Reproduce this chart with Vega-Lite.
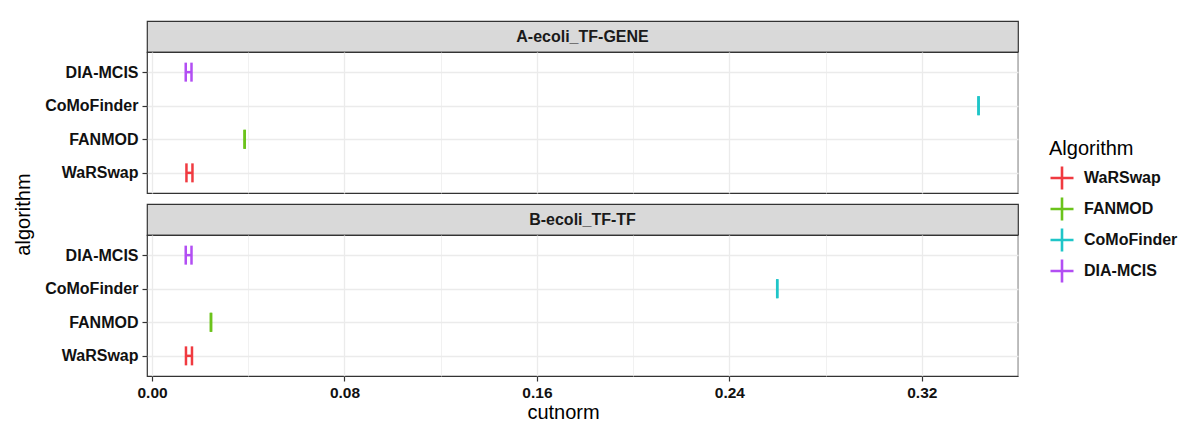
{
  "$schema": "https://vega.github.io/schema/vega-lite/v6.json",
  "background": "white",
  "padding": {"left": 13, "top": 20, "right": 0, "bottom": 0},
  "config": {
    "font": "Liberation Sans",
    "view": {"stroke": "#333333", "strokeWidth": 1.2},
    "tick": {"opacity": 1},
    "rule": {"opacity": 1}
  },
  "datasets": {
    "bars": [
      {"panel": "A-ecoli_TF-GENE", "algorithm": "WaRSwap", "xmin": 0.0143, "xmax": 0.0168},
      {"panel": "A-ecoli_TF-GENE", "algorithm": "FANMOD", "xmin": 0.0385, "xmax": 0.0385},
      {"panel": "A-ecoli_TF-GENE", "algorithm": "CoMoFinder", "xmin": 0.3436, "xmax": 0.3436},
      {"panel": "A-ecoli_TF-GENE", "algorithm": "DIA-MCIS", "xmin": 0.0140, "xmax": 0.0164},
      {"panel": "B-ecoli_TF-TF", "algorithm": "WaRSwap", "xmin": 0.0141, "xmax": 0.0166},
      {"panel": "B-ecoli_TF-TF", "algorithm": "FANMOD", "xmin": 0.0245, "xmax": 0.0245},
      {"panel": "B-ecoli_TF-TF", "algorithm": "CoMoFinder", "xmin": 0.2599, "xmax": 0.2599},
      {"panel": "B-ecoli_TF-TF", "algorithm": "DIA-MCIS", "xmin": 0.0140, "xmax": 0.0164}
    ],
    "strips": [
      {"panel": "A-ecoli_TF-GENE"},
      {"panel": "B-ecoli_TF-TF"}
    ]
  },
  "bounds": "flush",
  "spacing": 0,
  "vconcat": [
    {
      "width": 871, "height": 31,
      "data": {"name": "strips"},
      "transform": [{"filter": "datum.panel == 'A-ecoli_TF-GENE'"}],
      "view": {"fill": "#d9d9d9", "stroke": "#333333", "strokeWidth": 1.2},
      "mark": {"type": "text", "fontWeight": "bold", "fontSize": 16, "color": "#1a1a1a", "baseline": "middle", "align": "center"},
      "encoding": {"text": {"field": "panel", "type": "nominal"}}
    },
    {
      "width": 871, "height": 141,
      "data": {"name": "bars"},
      "transform": [{"filter": "datum.panel == 'A-ecoli_TF-GENE'"}],
      "layer": [
        {
          "mark": {"type": "rule", "strokeWidth": 2.5},
          "encoding": {
            "x": {"field": "xmin", "type": "quantitative",
              "scale": {"domain": [-0.0021, 0.36], "nice": false, "zero": false},
              "axis": {"title": null, "labels": false, "ticks": false, "domain": false,
                "values": [0, 0.04, 0.08, 0.12, 0.16, 0.2, 0.24, 0.28, 0.32, 0.36],
                "grid": true, "gridColor": "#ebebeb",
                "gridWidth": {"condition": {"test": "round(datum.value*100) % 8 == 0", "value": 1.3}, "value": 0.7}}},
            "x2": {"field": "xmax"},
            "y": {"field": "algorithm", "type": "nominal",
              "scale": {"type": "point", "padding": 0.6, "domain": ["DIA-MCIS", "CoMoFinder", "FANMOD", "WaRSwap"]},
              "axis": {"title": "algorithm", "titleFontSize": 20, "titleFontWeight": "normal", "titleColor": "#000000",
                "titleY": 162, "titlePadding": 11,
                "labelFontSize": 16, "labelFontWeight": "bold", "labelColor": "#111111", "labelPadding": 4,
                "tickColor": "#333333", "tickSize": 5, "tickWidth": 1.2, "domain": false,
                "grid": true, "gridColor": "#ebebeb", "gridWidth": 1.3}},
            "color": {"field": "algorithm", "type": "nominal",
              "scale": {"domain": ["WaRSwap", "FANMOD", "CoMoFinder", "DIA-MCIS"], "range": ["#F03A40", "#6BC31B", "#1FC5C8", "#B24EF3"]},
              "legend": {"title": "Algorithm", "orient": "none", "legendX": 902, "legendY": 118,
                "titleFontSize": 20, "titleFontWeight": "normal", "titleColor": "#000000", "titlePadding": 6,
                "symbolType": "M-1,0H1M0,-1V1", "symbolSize": 529, "symbolStrokeWidth": 2.6,
                "labelFontSize": 16, "labelFontWeight": "bold", "labelColor": "#111111", "labelOffset": 9,
                "rowPadding": -3, "padding": 0}}
          }
        },
        {
          "mark": {"type": "tick", "size": 19, "thickness": 2.5, "opacity": 1},
          "encoding": {
            "x": {"field": "xmin", "type": "quantitative"},
            "y": {"field": "algorithm", "type": "nominal"},
            "color": {"field": "algorithm", "type": "nominal"}
          }
        },
        {
          "mark": {"type": "tick", "size": 19, "thickness": 2.5, "opacity": 1},
          "encoding": {
            "x": {"field": "xmax", "type": "quantitative"},
            "y": {"field": "algorithm", "type": "nominal"},
            "color": {"field": "algorithm", "type": "nominal"}
          }
        }
      ]
    },
    {
      "width": 871, "height": 11,
      "data": {"name": "strips"},
      "transform": [{"filter": "false"}],
      "view": {"stroke": null, "fill": null},
      "mark": {"type": "text"},
      "encoding": {"text": {"field": "panel", "type": "nominal"}}
    },
    {
      "width": 871, "height": 31,
      "data": {"name": "strips"},
      "transform": [{"filter": "datum.panel == 'B-ecoli_TF-TF'"}],
      "view": {"fill": "#d9d9d9", "stroke": "#333333", "strokeWidth": 1.2},
      "mark": {"type": "text", "fontWeight": "bold", "fontSize": 16, "color": "#1a1a1a", "baseline": "middle", "align": "center"},
      "encoding": {"text": {"field": "panel", "type": "nominal"}}
    },
    {
      "width": 871, "height": 141,
      "data": {"name": "bars"},
      "transform": [{"filter": "datum.panel == 'B-ecoli_TF-TF'"}],
      "layer": [
        {
          "mark": {"type": "rule", "strokeWidth": 2.5},
          "encoding": {
            "x": {"field": "xmin", "type": "quantitative",
              "scale": {"domain": [-0.0021, 0.36], "nice": false, "zero": false},
              "axis": {"title": "cutnorm", "titleFontSize": 20, "titleFontWeight": "normal", "titleColor": "#000000",
                "titleX": 416, "titlePadding": 2,
                "values": [0, 0.04, 0.08, 0.12, 0.16, 0.2, 0.24, 0.28, 0.32, 0.36],
                "format": ".2f",
                "labelExpr": "round(datum.value*100) % 8 == 0 ? datum.label : ''",
                "labelFontSize": 15.5, "labelFontWeight": "bold", "labelColor": "#111111", "labelPadding": 4,
                "tickSize": 5, "tickWidth": 1.2,
                "tickColor": {"condition": {"test": "round(datum.value*100) % 8 == 0", "value": "#333333"}, "value": "transparent"},
                "domain": false,
                "grid": true, "gridColor": "#ebebeb",
                "gridWidth": {"condition": {"test": "round(datum.value*100) % 8 == 0", "value": 1.3}, "value": 0.7}}},
            "x2": {"field": "xmax"},
            "y": {"field": "algorithm", "type": "nominal",
              "scale": {"type": "point", "padding": 0.6, "domain": ["DIA-MCIS", "CoMoFinder", "FANMOD", "WaRSwap"]},
              "axis": {"title": null,
                "labelFontSize": 16, "labelFontWeight": "bold", "labelColor": "#111111", "labelPadding": 4,
                "tickColor": "#333333", "tickSize": 5, "tickWidth": 1.2, "domain": false,
                "grid": true, "gridColor": "#ebebeb", "gridWidth": 1.3}},
            "color": {"field": "algorithm", "type": "nominal"}
          }
        },
        {
          "mark": {"type": "tick", "size": 19, "thickness": 2.5, "opacity": 1},
          "encoding": {
            "x": {"field": "xmin", "type": "quantitative"},
            "y": {"field": "algorithm", "type": "nominal"},
            "color": {"field": "algorithm", "type": "nominal"}
          }
        },
        {
          "mark": {"type": "tick", "size": 19, "thickness": 2.5, "opacity": 1},
          "encoding": {
            "x": {"field": "xmax", "type": "quantitative"},
            "y": {"field": "algorithm", "type": "nominal"},
            "color": {"field": "algorithm", "type": "nominal"}
          }
        }
      ]
    }
  ]
}
